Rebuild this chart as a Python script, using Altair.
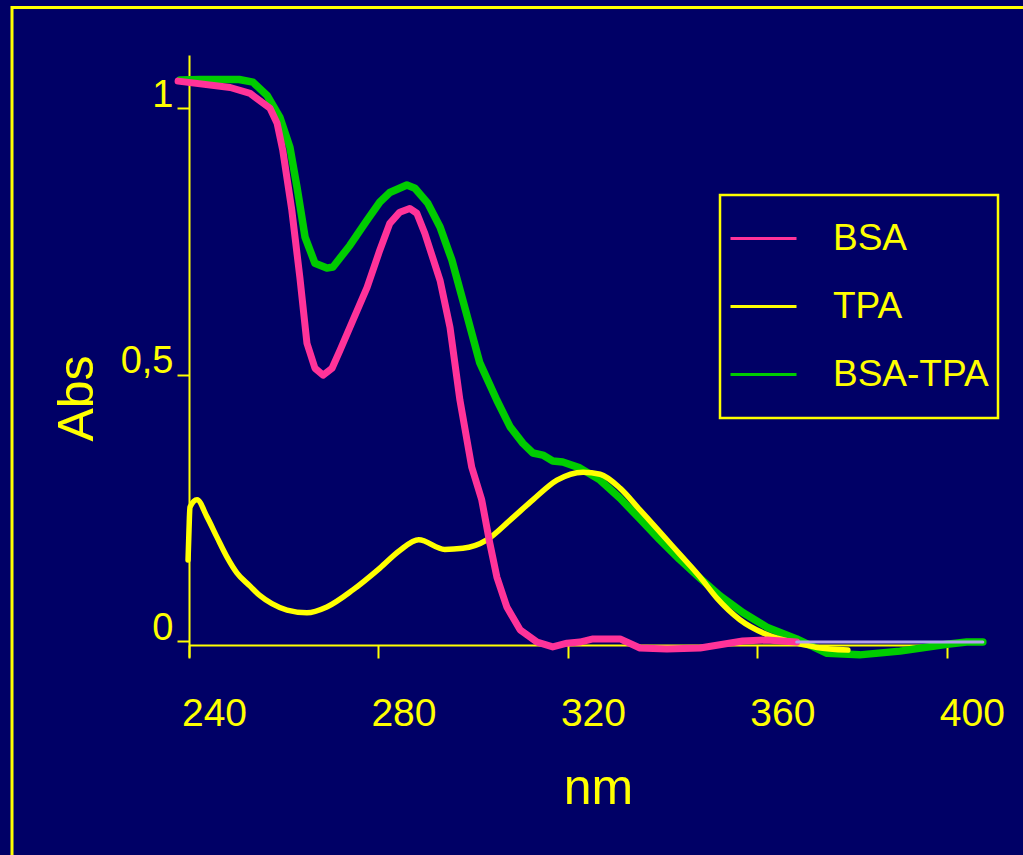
import altair as alt
import pandas as pd

BG = "#000066"
YEL = "#FFFF00"
PINK = "#FF3399"
GREEN = "#00CC00"
LAV = "#B3A1EE"
FONT = "Liberation Sans"

series_names = ["BSA", "TPA", "BSA-TPA"]
series_colors = [PINK, YEL, GREEN]

x_ticks = [240, 280, 320, 360, 400]
y_ticks = [0, 0.5, 1]

bsa_x = [237.7, 248.7, 252.9, 257.1, 258.6, 259.8, 261.7, 263.4, 264.9, 266.6, 268.3, 270.2,
         271.9, 274.6, 277.6, 280.3, 282.4, 284.5, 286.6, 288.1, 289.8, 293.0, 295.1, 297.2,
         299.7, 301.8, 303.5, 305.0, 307.1, 309.9, 313.5, 316.8, 319.8, 322.5, 325.3, 331.0,
         335.2, 340.9, 347.9, 356.9, 362.0, 368.3]
bsa_y = [1.051, 1.039, 1.028, 1.000, 0.972, 0.921, 0.809, 0.683, 0.559, 0.512, 0.499, 0.512,
         0.546, 0.602, 0.664, 0.734, 0.784, 0.805, 0.812, 0.803, 0.765, 0.677, 0.589, 0.452,
         0.326, 0.265, 0.184, 0.120, 0.064, 0.021, -0.002, -0.011, -0.004, -0.002, 0.004, 0.004,
         -0.013, -0.015, -0.013, 0.0, 0.002, -0.002]

tpa_x = [239.8, 240.0, 240.2, 241.7, 243.8, 245.9, 248.0, 250.1, 252.9, 255.0, 257.5, 260.7,
         264.9, 269.1, 274.6, 280.3, 284.5, 288.5, 294.0, 297.8, 302.9, 307.8, 312.6, 317.7,
         323.2, 326.8, 331.0, 335.2, 339.4, 343.6, 347.9, 351.5, 356.3, 362.0, 368.3, 372.6,
         379.1]
tpa_y = [0.152, 0.208, 0.251, 0.265, 0.233, 0.195, 0.158, 0.128, 0.103, 0.085, 0.070, 0.058,
         0.053, 0.064, 0.096, 0.137, 0.170, 0.190, 0.172, 0.174, 0.190, 0.227, 0.265, 0.302,
         0.317, 0.313, 0.287, 0.246, 0.205, 0.163, 0.120, 0.080, 0.040, 0.012, -0.004, -0.012,
         -0.017]

mix_x = [238.1, 242.3, 250.6, 253.5, 256.5, 259.2, 261.3, 262.8, 264.5, 266.6, 269.1, 270.4,
         274.0, 277.6, 280.3, 282.4, 286.0, 287.7, 290.4, 293.0, 295.5, 297.8, 301.4, 305.0,
         307.8, 310.5, 312.6, 314.7, 316.8, 318.9, 322.5, 326.8, 331.0, 335.2, 339.4, 343.6,
         347.9, 352.1, 357.0, 362.0, 368.3, 374.7, 381.6, 390.1, 400.0, 404.2, 407.6]
mix_y = [1.053, 1.054, 1.054, 1.049, 1.024, 0.983, 0.927, 0.852, 0.758, 0.709, 0.700, 0.702,
         0.743, 0.790, 0.824, 0.842, 0.856, 0.850, 0.822, 0.777, 0.715, 0.640, 0.522, 0.452,
         0.402, 0.371, 0.353, 0.349, 0.338, 0.336, 0.325, 0.302, 0.268, 0.229, 0.190, 0.153,
         0.118, 0.085, 0.053, 0.026, 0.004, -0.023, -0.026, -0.019, -0.006, -0.002, -0.002]

base_x = [368.3, 407.6]
base_y = [-0.002, -0.002]

rows = []
for name, xs_, ys_ in [("BSA-TPA", mix_x, mix_y), ("TPA", tpa_x, tpa_y), ("BSA", bsa_x, bsa_y)]:
    rows += [{"nm": a, "abs": b, "series": name} for a, b in zip(xs_, ys_)]
df = pd.DataFrame(rows)
base_df = pd.DataFrame({"nm": base_x, "abs": base_y})

x_axis = alt.Axis(
    values=x_ticks, offset=-12, tickSize=13, tickWidth=2, domainWidth=2,
    domainColor=YEL, tickColor=YEL, labelColor=YEL, labelFont=FONT, labelFontSize=39,
    labelOffset=25, labelPadding=36, labelFlush=False, grid=False,
    title="nm", titleColor=YEL, titleFont=FONT, titleFontSize=50, titleFontWeight="normal",
    titleX=409, titleY=158, titleBaseline="alphabetic", titleAlign="center",
)
y_axis = alt.Axis(
    values=y_ticks, format="~g", labelExpr="replace(datum.label, '.', ',')",
    tickSize=12, tickWidth=2, domainWidth=2,
    domainColor=YEL, tickColor=YEL, labelColor=YEL, labelFont=FONT, labelFontSize=38,
    labelOffset=-13, labelPadding=4, grid=False,
    title="Abs", titleColor=YEL, titleFont=FONT, titleFontSize=50, titleFontWeight="normal",
    titleAngle=270, titleX=-97, titleY=343, titleBaseline="alphabetic", titleAlign="center",
)

xs = alt.Scale(domain=[240, 401.3], nice=False, zero=False)
ys = alt.Scale(domain=[-0.03, 1.1], nice=False, zero=False)

color = alt.Color(
    "series:N",
    scale=alt.Scale(domain=series_names, range=series_colors),
    legend=alt.Legend(
        orient="none", legendX=531, legendY=140,
        title=" ", titleOrient="bottom", titleFontSize=10, titlePadding=6,
        symbolType="stroke", symbolSize=4356, symbolStrokeWidth=3,
        labelFontSize=37, labelColor=YEL, labelFont=FONT, labelOffset=35, labelLimit=0,
        rowPadding=15, padding=9, strokeColor=YEL, fillColor=BG,
    ),
)

def series_layer(name, width, interp):
    return alt.Chart(df).transform_filter(alt.datum.series == name).mark_line(
        strokeWidth=width, strokeCap="round", strokeJoin="round", interpolate=interp
    ).encode(
        x=alt.X("nm:Q", scale=xs, axis=x_axis),
        y=alt.Y("abs:Q", scale=ys, axis=y_axis),
        color=color,
        order=alt.Order("nm:Q"),
    )

green = series_layer("BSA-TPA", 7.5, "linear")
yellow = series_layer("TPA", 5.5, "monotone")
pink = series_layer("BSA", 7, "linear")

base = alt.Chart(base_df).mark_line(strokeWidth=3, color=LAV, strokeCap="round").encode(
    x=alt.X("nm:Q", scale=xs, axis=x_axis),
    y=alt.Y("abs:Q", scale=ys, axis=y_axis),
)

frame = alt.Chart(alt.Data(values=[{}])).mark_rect(
    filled=False, stroke=YEL, strokeWidth=3
).encode(
    x=alt.value(-177), x2=alt.value(860), y=alt.value(-47.5), y2=alt.value(830)
)

chart = alt.layer(frame, green, yellow, pink, base).properties(
    width=764, height=602,
    padding={"left": 189, "top": 55, "right": 70, "bottom": 198},
    autosize=alt.AutoSizeParams(type="none"),
    background=BG,
).configure_view(stroke=None).configure_legend(strokeWidth=2.5)

chart.save("out.html", embed_options={"renderer": "svg", "actions": False})
